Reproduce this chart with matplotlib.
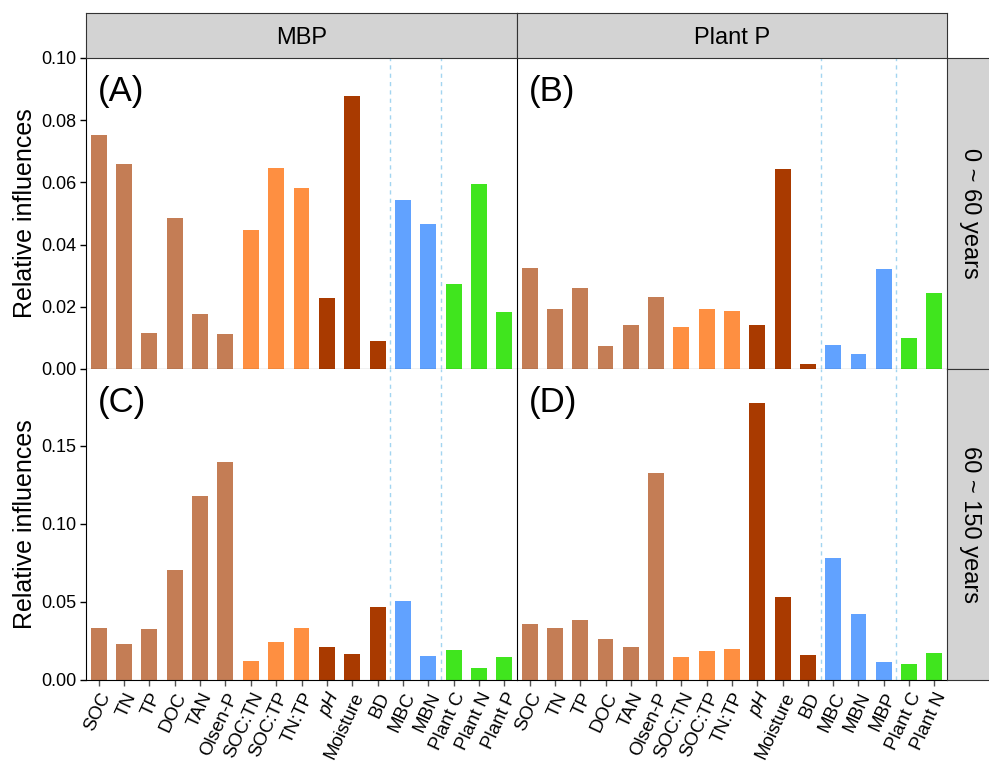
import matplotlib
matplotlib.use("Agg")
import matplotlib.pyplot as plt

plt.rcParams["font.family"] = ["Liberation Sans", "DejaVu Sans"]

# predictor sets for the two response columns
VARS_MBP = ["SOC", "TN", "TP", "DOC", "TAN", "Olsen-P", "SOC:TN", "SOC:TP", "TN:TP",
            "pH", "Moisture", "BD", "MBC", "MBN", "Plant C", "Plant N", "Plant P"]
VARS_PLANTP = ["SOC", "TN", "TP", "DOC", "TAN", "Olsen-P", "SOC:TN", "SOC:TP", "TN:TP",
               "pH", "Moisture", "BD", "MBC", "MBN", "MBP", "Plant C", "Plant N"]

# variable group of each predictor
GROUP_MBP = ["nut"] * 6 + ["ratio"] * 3 + ["phys"] * 3 + ["mic"] * 2 + ["plant"] * 3
GROUP_PLANTP = ["nut"] * 6 + ["ratio"] * 3 + ["phys"] * 3 + ["mic"] * 3 + ["plant"] * 2

# relative influences, 0 ~ 60 years
A_MBP_0_60 = [0.0752, 0.0658, 0.0116, 0.0484, 0.0177, 0.0113, 0.0448, 0.0645, 0.0581,
              0.0229, 0.0877, 0.0090, 0.0545, 0.0465, 0.0274, 0.0594, 0.0184]
B_PLANTP_0_60 = [0.0326, 0.0194, 0.0261, 0.0074, 0.0142, 0.0232, 0.0135, 0.0194, 0.0187,
                 0.0142, 0.0642, 0.0016, 0.0077, 0.0048, 0.0323, 0.0100, 0.0245]
# relative influences, 60 ~ 150 years
C_MBP_60_150 = [0.0334, 0.0232, 0.0328, 0.0704, 0.1177, 0.1394, 0.0123, 0.0245, 0.0334,
                0.0213, 0.0168, 0.0468, 0.0506, 0.0155, 0.0194, 0.0079, 0.0149]
D_PLANTP_60_150 = [0.0360, 0.0334, 0.0385, 0.0264, 0.0213, 0.1323, 0.0149, 0.0187, 0.0200,
                   0.1770, 0.0532, 0.0162, 0.0781, 0.0423, 0.0117, 0.0104, 0.0174]

COLUMNS = ["MBP", "Plant P"]
ROWS = ["0 ~ 60 years", "60 ~ 150 years"]
PANEL_TAGS = ["(A)", "(B)", "(C)", "(D)"]

COLORS = {"nut": "#C47D55", "ratio": "#FE8F41", "phys": "#A93A00",
          "mic": "#61A2FF", "plant": "#40E51E"}

W, H = 989, 763
fig = plt.figure(figsize=(W / 100, H / 100), dpi=100)


def px_axes(x0, y0, x1, y1, **kw):
    """Axes from pixel box (left, top, right, bottom)."""
    return fig.add_axes([x0 / W, 1 - y1 / H, (x1 - x0) / W, (y1 - y0) / H], **kw)


xs_px = [86, 517, 947]
ys_px = [58, 369, 680]
panels = [
    (0, 0, VARS_MBP, GROUP_MBP, A_MBP_0_60, [11.5, 13.5]),
    (0, 1, VARS_PLANTP, GROUP_PLANTP, B_PLANTP_0_60, [11.5, 14.5]),
    (1, 0, VARS_MBP, GROUP_MBP, C_MBP_60_150, [11.5, 13.5]),
    (1, 1, VARS_PLANTP, GROUP_PLANTP, D_PLANTP_60_150, [11.5, 14.5]),
]
ylims = [(0, 0.1), (0, 0.199)]
yticks = [[0, 0.02, 0.04, 0.06, 0.08, 0.10], [0, 0.05, 0.10, 0.15]]

for k, (r, c, names, groups, vals, seps) in enumerate(panels):
    ax = px_axes(xs_px[c], ys_px[r], xs_px[c + 1], ys_px[r + 1])
    x = range(len(names))
    ax.bar(x, vals, width=0.63, color=[COLORS[g] for g in groups], zorder=2)
    for s in seps:
        ax.axvline(s, color="#A3D5F0", lw=1, ls=(0, (3, 3)), zorder=1)
    ax.set_xlim(-0.5, len(names) - 0.5)
    ax.set_ylim(*ylims[r])
    ax.set_yticks(yticks[r])
    ax.set_yticklabels([f"{t:.2f}" for t in yticks[r]])
    for side in ["top", "right"]:
        ax.spines[side].set_visible(False)
    ax.spines["left"].set_color("black")
    ax.spines["bottom"].set_color("black")
    ax.tick_params(axis="y", length=4, width=1, labelsize=13, pad=3)
    if c == 1:
        ax.tick_params(axis="y", left=False, labelleft=False)
    else:
        ax.set_ylabel("Relative influences", fontsize=18, labelpad=3)
    if r == 0:
        ax.tick_params(axis="x", bottom=False, labelbottom=False)
    else:
        ax.set_xticks(list(x))
        ax.set_xticklabels(names, rotation=65, ha="right", va="top",
                           rotation_mode="anchor", fontsize=13.5)
        ax.tick_params(axis="x", length=4, width=1, color="#555555", pad=3)
        for lab in ax.get_xticklabels():
            if lab.get_text() == "pH":
                lab.set_fontstyle("italic")
    ax.text(0.028, 0.945, PANEL_TAGS[k], transform=ax.transAxes,
            fontsize=25, ha="left", va="top")

# facet strips
for c, name in enumerate(COLUMNS):
    sx = px_axes(xs_px[c], 13, xs_px[c + 1], 58)
    sx.set_facecolor("#D3D3D3")
    sx.set_xticks([])
    sx.set_yticks([])
    for sp in sx.spines.values():
        sp.set_color("#333333")
    sx.text(0.5, 0.45, name, transform=sx.transAxes, ha="center", va="center",
            fontsize=17)

for r, name in enumerate(ROWS):
    sy = px_axes(947, ys_px[r], 995, ys_px[r + 1])
    sy.set_facecolor("#D3D3D3")
    sy.set_xticks([])
    sy.set_yticks([])
    for sp in sy.spines.values():
        sp.set_color("#333333")
    sy.text(0.48, 0.5, name, transform=sy.transAxes, ha="center", va="center",
            rotation=-90, fontsize=17)

fig.savefig("out.png", dpi=100)
